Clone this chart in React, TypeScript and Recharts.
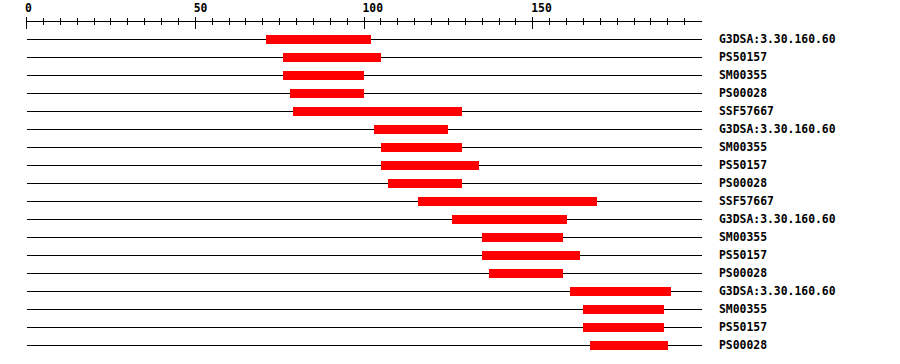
import { BarChart, Bar, XAxis, YAxis } from 'recharts';

// domain hits, top to bottom
const labels = [
    'G3DSA:3.30.160.60', 'PS50157', 'SM00355', 'PS00028', 'SSF57667',
    'G3DSA:3.30.160.60', 'SM00355', 'PS50157', 'PS00028', 'SSF57667',
    'G3DSA:3.30.160.60', 'SM00355', 'PS50157', 'PS00028',
    'G3DSA:3.30.160.60', 'SM00355', 'PS50157', 'PS00028'
];
const starts = [71, 76, 76, 78, 79, 103, 105, 105, 107, 116, 126, 135, 135, 137, 161, 165, 165, 167];
const ends = [102, 105, 100, 100, 129, 125, 129, 134, 129, 169, 160, 159, 164, 159, 191, 189, 189, 190];

// ruler
const rulerTicks = [0, 5, 10, 15, 20, 25, 30, 35, 40, 45, 50, 55, 60, 65, 70, 75, 80, 85, 90, 95,
    100, 105, 110, 115, 120, 125, 130, 135, 140, 145, 150, 155, 160, 165, 170, 175, 180, 185, 190, 195];
const labeledTicks = [0, 50, 100, 150];

const data = labels.map((label, i) => ({ id: i, label, range: [starts[i], ends[i]] }));

const FONT = '"DejaVu Sans Mono", monospace';

const RulerTick = ({ x, y, payload }: any) => {
    const major = labeledTicks.includes(payload.value);
    return (
        <g>
            <line
                x1={x} x2={x}
                y1={major ? y - 4.5 : y - 3.5}
                y2={major ? y + 7.5 : y + 3.5}
                stroke="#000"
                shapeRendering="crispEdges"
            />
            {major && (
                <text x={x - 1.5} y={y - 9.5} fontFamily={FONT} fontWeight="bold" fontSize={11.4} fill="#000">
                    {payload.value}
                </text>
            )}
        </g>
    );
};

const NameTick = ({ x, y, payload }: any) => (
    <text x={x + 17.5} y={y + 4} fontFamily={FONT} fontWeight="bold" fontSize={11.4} fill="#000">
        {labels[payload.value]}
    </text>
);

// thin black line across the whole row, under the red hit
const RowLine = (props: any) => {
    const cy = props.y + props.height / 2;
    return (
        <line
            x1={props.x} x2={props.x + props.width}
            y1={cy} y2={cy}
            stroke="#000" strokeWidth={1}
            shapeRendering="crispEdges"
        />
    );
};

export default function App() {
    return (
        <div style={{ position: 'absolute', left: 0, top: 0, width: 900, height: 364, background: '#fff' }}>
            <BarChart
                width={900}
                height={364}
                data={data}
                layout="vertical"
                margin={{ top: 0, right: 0, left: 26.5, bottom: 9.5 }}
            >
                <XAxis
                    type="number"
                    orientation="top"
                    domain={[0, 200]}
                    ticks={rulerTicks}
                    interval={0}
                    height={21.5}
                    axisLine={{ stroke: '#000', shapeRendering: 'crispEdges' }}
                    tickLine={false}
                    tickSize={0}
                    tickMargin={0}
                    tick={<RulerTick />}
                />
                <YAxis
                    type="category"
                    dataKey="id"
                    orientation="right"
                    width={198.5}
                    padding={{ top: 8, bottom: 1 }}
                    axisLine={false}
                    tickLine={false}
                    tickSize={0}
                    tickMargin={0}
                    interval={0}
                    tick={<NameTick />}
                />
                <Bar
                    dataKey="range"
                    fill="#ff0000"
                    barSize={9}
                    background={RowLine}
                    shapeRendering="crispEdges"
                    isAnimationActive={false}
                />
            </BarChart>
        </div>
    );
}
